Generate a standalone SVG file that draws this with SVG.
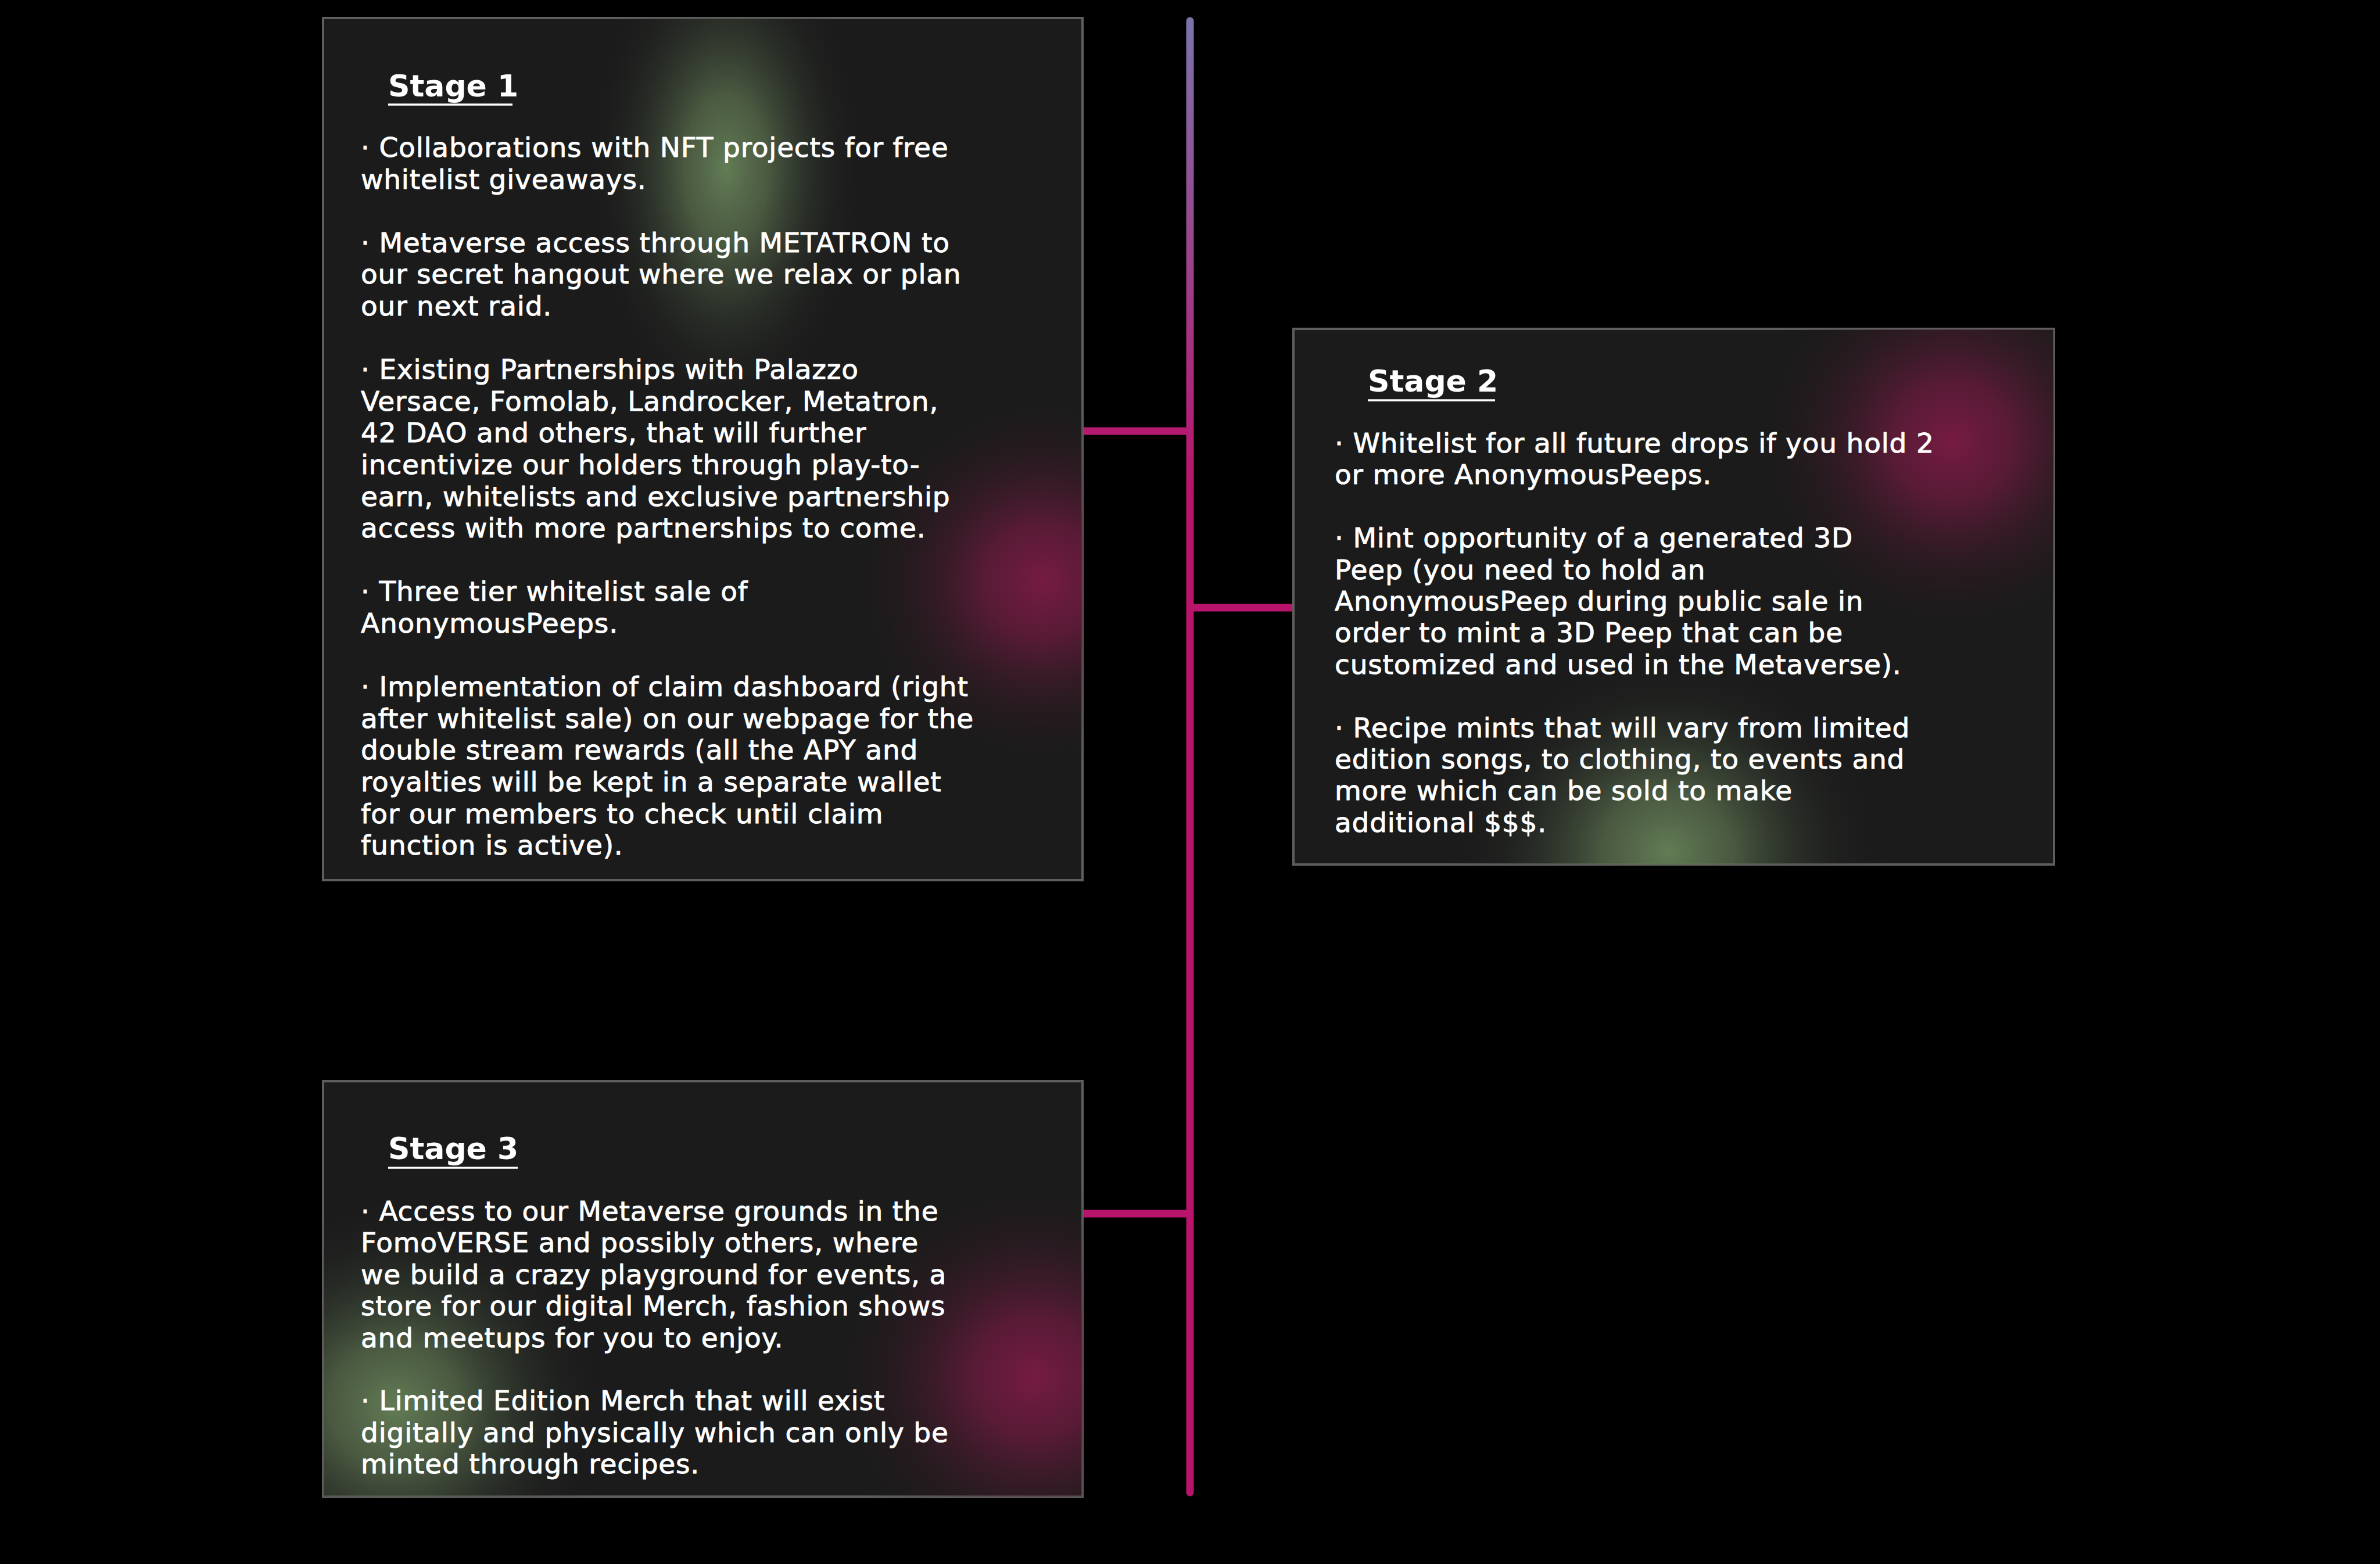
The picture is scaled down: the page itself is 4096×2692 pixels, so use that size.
<svg xmlns="http://www.w3.org/2000/svg" width="4096" height="2692" viewBox="0 0 4096 2692">
<style>
.box{fill:#1b1b1b;stroke:#5e5e5e;stroke-width:4}
.h{font-family:"DejaVu Sans",sans-serif;font-weight:bold;font-size:52px;fill:#fff}
.ul{stroke:#fff;stroke-width:3.5}
.b{font-family:"DejaVu Sans",sans-serif;font-size:47px;letter-spacing:0.8px;fill:#fff;stroke:#fff;stroke-width:0.9}
.conn{stroke-width:13;fill:none}
</style>
<defs>
<radialGradient id="gGreen">
<stop offset="0" stop-color="#627c55" stop-opacity="1"/>
<stop offset="0.3" stop-color="#56694a" stop-opacity="0.8"/>
<stop offset="0.65" stop-color="#3a4436" stop-opacity="0.35"/>
<stop offset="1" stop-color="#1b1b1b" stop-opacity="0"/>
</radialGradient>
<radialGradient id="gPink">
<stop offset="0" stop-color="#761b43" stop-opacity="1"/>
<stop offset="0.3" stop-color="#671b3c" stop-opacity="0.8"/>
<stop offset="0.65" stop-color="#421a2b" stop-opacity="0.35"/>
<stop offset="1" stop-color="#1b1b1b" stop-opacity="0"/>
</radialGradient>
<linearGradient id="gLine" gradientUnits="userSpaceOnUse" x1="0" y1="30" x2="0" y2="850">
<stop offset="0" stop-color="#7b73ab"/>
<stop offset="1" stop-color="#b9136b"/>
</linearGradient>
<clipPath id="c1"><rect x="556" y="31" width="1307" height="1484"/></clipPath>
<clipPath id="c2"><rect x="2226" y="566" width="1309" height="922"/></clipPath>
<clipPath id="c3"><rect x="556" y="1861" width="1307" height="715"/></clipPath>
</defs>
<rect width="4096" height="2692" fill="#000"/>

<g id="connectors">
<line class="conn" x1="2048" y1="36" x2="2048" y2="2569" stroke="url(#gLine)" stroke-linecap="round" stroke-width="12.5"/>
<line class="conn" x1="1863" y1="742" x2="2048" y2="742" stroke="#b31a70"/>
<line class="conn" x1="2048" y1="1046" x2="2226" y2="1046" stroke="#b8146c"/>
<line class="conn" x1="1863" y1="2089" x2="2048" y2="2089" stroke="#b8146c"/>
</g>

<g id="stage1">
<rect class="box" x="556" y="31" width="1307" height="1484"/>
<g clip-path="url(#c1)">
<ellipse cx="1250" cy="290" rx="240" ry="430" fill="url(#gGreen)"/>
<ellipse cx="1795" cy="1000" rx="340" ry="330" fill="url(#gPink)"/>
</g>
<text class="h" x="668" y="166">Stage 1</text>
<line class="ul" x1="668" y1="180" x2="882" y2="180"/>
<text class="b">
<tspan x="621" y="270">· Collaborations with NFT projects for free</tspan>
<tspan x="621" y="324.6">whitelist giveaways.</tspan>
<tspan x="621" y="433.8">· Metaverse access through METATRON to</tspan>
<tspan x="621" y="488.4">our secret hangout where we relax or plan</tspan>
<tspan x="621" y="543">our next raid.</tspan>
<tspan x="621" y="652.2">· Existing Partnerships with Palazzo</tspan>
<tspan x="621" y="706.8">Versace, Fomolab, Landrocker, Metatron,</tspan>
<tspan x="621" y="761.4">42 DAO and others, that will further</tspan>
<tspan x="621" y="816">incentivize our holders through play-to-</tspan>
<tspan x="621" y="870.6">earn, whitelists and exclusive partnership</tspan>
<tspan x="621" y="925.2">access with more partnerships to come.</tspan>
<tspan x="621" y="1034.4">· Three tier whitelist sale of</tspan>
<tspan x="621" y="1089">AnonymousPeeps.</tspan>
<tspan x="621" y="1198.2">· Implementation of claim dashboard (right</tspan>
<tspan x="621" y="1252.8">after whitelist sale) on our webpage for the</tspan>
<tspan x="621" y="1307.4">double stream rewards (all the APY and</tspan>
<tspan x="621" y="1362">royalties will be kept in a separate wallet</tspan>
<tspan x="621" y="1416.6">for our members to check until claim</tspan>
<tspan x="621" y="1471.2">function is active).</tspan>
</text>
</g>

<g id="stage2">
<rect class="box" x="2226" y="566" width="1309" height="922"/>
<g clip-path="url(#c2)">
<ellipse cx="3360" cy="760" rx="350" ry="340" fill="url(#gPink)"/>
<ellipse cx="2870" cy="1465" rx="370" ry="340" fill="url(#gGreen)"/>
</g>
<text class="h" x="2354" y="674">Stage 2</text>
<line class="ul" x1="2354" y1="689" x2="2573" y2="689"/>
<text class="b">
<tspan x="2297" y="779">· Whitelist for all future drops if you hold 2</tspan>
<tspan x="2297" y="833.4">or more AnonymousPeeps.</tspan>
<tspan x="2297" y="942.2">· Mint opportunity of a generated 3D</tspan>
<tspan x="2297" y="996.6">Peep (you need to hold an</tspan>
<tspan x="2297" y="1051">AnonymousPeep during public sale in</tspan>
<tspan x="2297" y="1105.4">order to mint a 3D Peep that can be</tspan>
<tspan x="2297" y="1159.8">customized and used in the Metaverse).</tspan>
<tspan x="2297" y="1268.6">· Recipe mints that will vary from limited</tspan>
<tspan x="2297" y="1323">edition songs, to clothing, to events and</tspan>
<tspan x="2297" y="1377.4">more which can be sold to make</tspan>
<tspan x="2297" y="1431.8">additional $$$.</tspan>
</text>
</g>

<g id="stage3">
<rect class="box" x="556" y="1861" width="1307" height="715"/>
<g clip-path="url(#c3)">
<ellipse cx="680" cy="2420" rx="370" ry="360" fill="url(#gGreen)"/>
<ellipse cx="1780" cy="2370" rx="360" ry="350" fill="url(#gPink)"/>
</g>
<text class="h" x="668" y="1995">Stage 3</text>
<line class="ul" x1="668" y1="2010" x2="891" y2="2010"/>
<text class="b">
<tspan x="621" y="2101">· Access to our Metaverse grounds in the</tspan>
<tspan x="621" y="2155.4">FomoVERSE and possibly others, where</tspan>
<tspan x="621" y="2209.8">we build a crazy playground for events, a</tspan>
<tspan x="621" y="2264.2">store for our digital Merch, fashion shows</tspan>
<tspan x="621" y="2318.6">and meetups for you to enjoy.</tspan>
<tspan x="621" y="2427.4">· Limited Edition Merch that will exist</tspan>
<tspan x="621" y="2481.8">digitally and physically which can only be</tspan>
<tspan x="621" y="2536.2">minted through recipes.</tspan>
</text>
</g>
</svg>
